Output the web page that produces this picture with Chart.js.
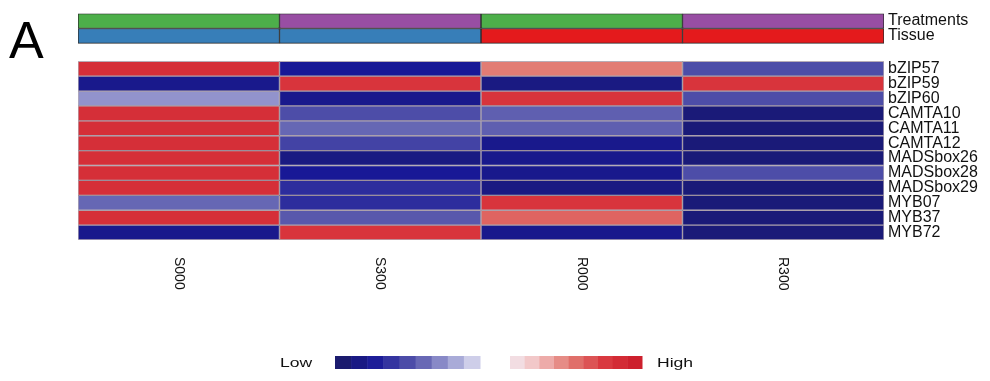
<!DOCTYPE html>
<html>
<head>
<meta charset="utf-8">
<script src="https://cdn.jsdelivr.net/npm/chart.js@4.4.1/dist/chart.umd.min.js"></script>
<style>
  html, body { margin: 0; padding: 0; background: #ffffff; }
  #wrap { width: 990px; height: 381px; }
</style>
</head>
<body>
<div id="wrap"><canvas id="heat" width="990" height="381"></canvas></div>
<script>
// Samples (columns) and their annotations
const samples = ['S000', 'S300', 'R000', 'R300'];
const treatment = ['000', '300', '000', '300'];
const tissue = ['S', 'S', 'R', 'R'];
const annotationNames = ['Treatments', 'Tissue'];

// Transcription factor genes (rows)
const genes = ['bZIP57', 'bZIP59', 'bZIP60', 'CAMTA10', 'CAMTA11', 'CAMTA12',
               'MADSbox26', 'MADSbox28', 'MADSbox29', 'MYB07', 'MYB37', 'MYB72'];

// Scaled expression per sample (row order follows genes)
const S000 = [ 1.7, -1.7, -0.6,  1.7,  1.7,  1.7,  1.7,  1.7,  1.7, -0.9,  1.7, -1.7];
const S300 = [-1.6,  1.6, -1.7, -1.1, -0.9, -1.2, -1.8, -1.6, -1.4, -1.4, -1.0,  1.6];
const R000 = [ 1.0, -1.8,  1.6, -0.95, -0.95, -1.7, -1.7, -1.7, -1.8,  1.6,  1.2, -1.7];
const R300 = [-1.1,  1.6, -1.1, -1.9, -1.9, -1.9, -1.9, -1.1, -1.9, -1.9, -1.9, -1.9];
const expression = [S000, S300, R000, R300];

// Colour key ends
const keyLabels = ['Low', 'High'];

// ---- styling ----
const treatmentColors = { '000': '#4daf4a', '300': '#984ea3' };
const tissueColors = { 'S': '#377eb8', 'R': '#e41a1c' };

const stops = [
  [-2.0, [27, 27, 110]],
  [-1.6, [24, 24, 150]],
  [-1.0, [88, 88, 172]],
  [-0.5, [160, 162, 212]],
  [ 0.0, [242, 242, 250]],
  [ 0.5, [242, 195, 195]],
  [ 1.0, [226, 124, 116]],
  [ 1.6, [216, 52, 60]],
  [ 2.0, [205, 32, 45]]
];
function heatColor(v) {
  if (v <= stops[0][0]) return 'rgb(' + stops[0][1].join(',') + ')';
  for (let i = 1; i < stops.length; i++) {
    if (v <= stops[i][0]) {
      const [a, ca] = stops[i - 1], [b, cb] = stops[i];
      const t = (v - a) / (b - a);
      const c = ca.map((x, k) => Math.round(x + (cb[k] - x) * t));
      return 'rgb(' + c.join(',') + ')';
    }
  }
  return 'rgb(' + stops[stops.length - 1][1].join(',') + ')';
}

// Row positions on the vertical axis: two annotation bands, a gap, then genes
const GAP = 1.2;
const rowLabels = annotationNames.concat(genes);
const rowPos = rowLabels.map((r, i) => (i < 2 ? i : i + GAP));
const labelAt = new Map(rowPos.map((p, i) => [p.toFixed(2), rowLabels[i]]));

function cellColor(row, col) {
  if (row === 0) return treatmentColors[treatment[col]];
  if (row === 1) return tissueColors[tissue[col]];
  return heatColor(expression[col][row - 2]);
}

const datasets = samples.map((name, col) => ({
  label: name,
  data: rowPos.map(p => ({ x: 1, y: p })),
  backgroundColor: ctx => cellColor(ctx.dataIndex, col),
  borderColor: ctx => (ctx.dataIndex < 2 ? '#2a2a2a' : 'rgba(30,0,30,0.32)'),
  borderWidth: 1,
  borderSkipped: false,
  barPercentage: 1,
  categoryPercentage: 1
}));

// Column names, panel letter and colour key
const extras = {
  id: 'extras',
  afterDraw(chart) {
    const ctx = chart.ctx;
    const xs = chart.scales.x;
    ctx.save();
    ctx.fillStyle = '#111';
    ctx.font = '14px "Liberation Sans", Arial, sans-serif';
    ctx.textAlign = 'left';
    ctx.textBaseline = 'middle';
    samples.forEach((s, c) => {
      const x = xs.getPixelForValue(c + 0.5);
      ctx.save();
      ctx.translate(x, 257);
      ctx.rotate(Math.PI / 2);
      ctx.fillText(s, 0, 0);
      ctx.restore();
    });

    ctx.fillStyle = '#000';
    ctx.font = '52px "Liberation Sans", Arial, sans-serif';
    ctx.textBaseline = 'alphabetic';
    ctx.fillText('A', 9, 58);

    // colour key: stepped blue and red halves
    const y0 = 356, h = 13, steps = 9;
    const blueX = 335, blueW = 145, redX = 510, redW = 132;
    for (let i = 0; i < steps; i++) {
      const v = -2 + (2 * i) / steps;
      ctx.fillStyle = heatColor(v);
      ctx.fillRect(blueX + (blueW * i) / steps, y0, blueW / steps + 0.5, h);
    }
    for (let i = 0; i < steps; i++) {
      const v = (2 * (i + 1)) / steps;
      ctx.fillStyle = heatColor(v);
      ctx.fillRect(redX + (redW * i) / steps, y0, redW / steps + 0.5, h);
    }
    ctx.fillStyle = '#111';
    ctx.font = '13px "Liberation Sans", Arial, sans-serif';
    ctx.textBaseline = 'middle';
    ctx.save();
    ctx.translate(280, 363);
    ctx.scale(1.35, 1);
    ctx.fillText(keyLabels[0], 0, 0);
    ctx.restore();
    ctx.save();
    ctx.translate(657, 363);
    ctx.scale(1.35, 1);
    ctx.fillText(keyLabels[1], 0, 0);
    ctx.restore();
    ctx.restore();
  }
};

new Chart(document.getElementById('heat'), {
  type: 'bar',
  data: { datasets },
  options: {
    indexAxis: 'y',
    responsive: false,
    animation: false,
    devicePixelRatio: 1,
    layout: { padding: { left: 78, top: 13, bottom: 141, right: 0 } },
    scales: {
      x: { type: 'linear', stacked: true, display: false, min: 0, max: 4 },
      y: {
        type: 'linear',
        stacked: true,
        reverse: true,
        offset: false,
        min: -0.5,
        max: rowPos[rowPos.length - 1] + 0.5,
        position: 'right',
        grid: { display: false, drawTicks: false },
        border: { display: false },
        afterBuildTicks(scale) { scale.ticks = rowPos.map(v => ({ value: v })); },
        ticks: {
          autoSkip: false,
          padding: 4,
          color: '#111',
          font: { family: '"Liberation Sans", Arial, sans-serif', size: 16 },
          callback: v => labelAt.get(Number(v).toFixed(2)) || ''
        },
        afterFit(scale) { scale.width = 106; }
      }
    },
    plugins: { legend: { display: false }, tooltip: { enabled: false } }
  },
  plugins: [extras]
});
</script>
</body>
</html>
